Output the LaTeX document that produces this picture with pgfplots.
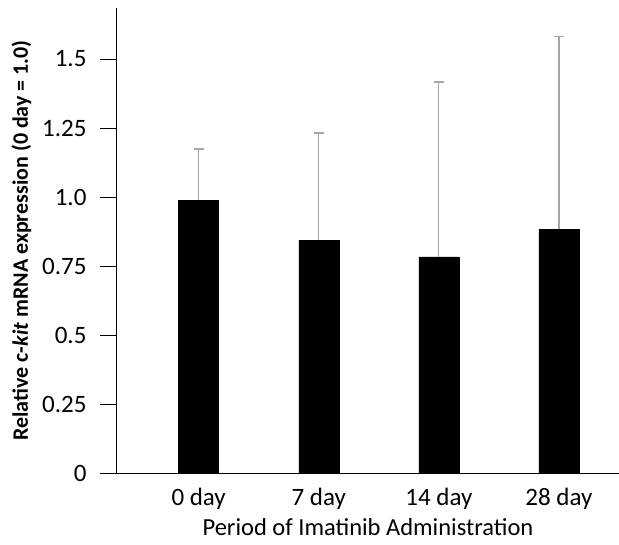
\documentclass[border=0pt]{standalone}
\usepackage{pgfplots}
\pgfplotsset{compat=1.18}
\usepackage{fontspec}
\setmainfont{Carlito}
\begin{document}
\begin{tikzpicture}
\begin{axis}[
  scale only axis,
  width=502pt, height=465pt,
  xmin=-0.68, xmax=3.5,
  ymin=0, ymax=1.685,
  axis lines=left,
  axis line style={-, black, line width=1pt},
  xtick={0,1,2,3},
  xticklabels={0 day,7 day,14 day,28 day},
  major x tick style={draw=none},
  ytick={0,0.25,0.5,0.75,1.0,1.25,1.5},
  yticklabels={0,0.25,0.5,0.75,1.0,1.25,1.5},
  tick align=outside,
  major tick length=17pt,
  y tick style={black, line width=1pt},
  tick label style={font=\fontsize{25}{29}\selectfont},
  /pgf/number format/assume math mode=true,
  yticklabel style={xshift=-10pt},
  xticklabel style={yshift=5pt},
  xlabel={Period of Imatinib Administration},
  xlabel style={font=\fontsize{24.5}{28}\selectfont, yshift=-2pt},
  ylabel={\textbf{Relative c-\textit{kit} mRNA expression (0 day = 1.0)}},
  ylabel style={font=\fontsize{22}{26}\selectfont, yshift=4pt},
  clip=false,
]
\addplot[ybar, bar width=40pt, fill=black, draw=black,
  error bars/.cd, y dir=plus, y explicit,
  error bar style={gray!70, line width=1.2pt},
  error mark options={gray!70, line width=1.2pt, mark size=5pt, rotate=90}]
  coordinates {
  (0,0.989) +- (0,0.185)
  (1,0.844) +- (0,0.388)
  (2,0.783) +- (0,0.634)
  (3,0.884) +- (0,0.699)
  };
\end{axis}
\pgfresetboundingbox
\path (-117pt,-71pt) rectangle (502pt,473pt);
\end{tikzpicture}
\end{document}
